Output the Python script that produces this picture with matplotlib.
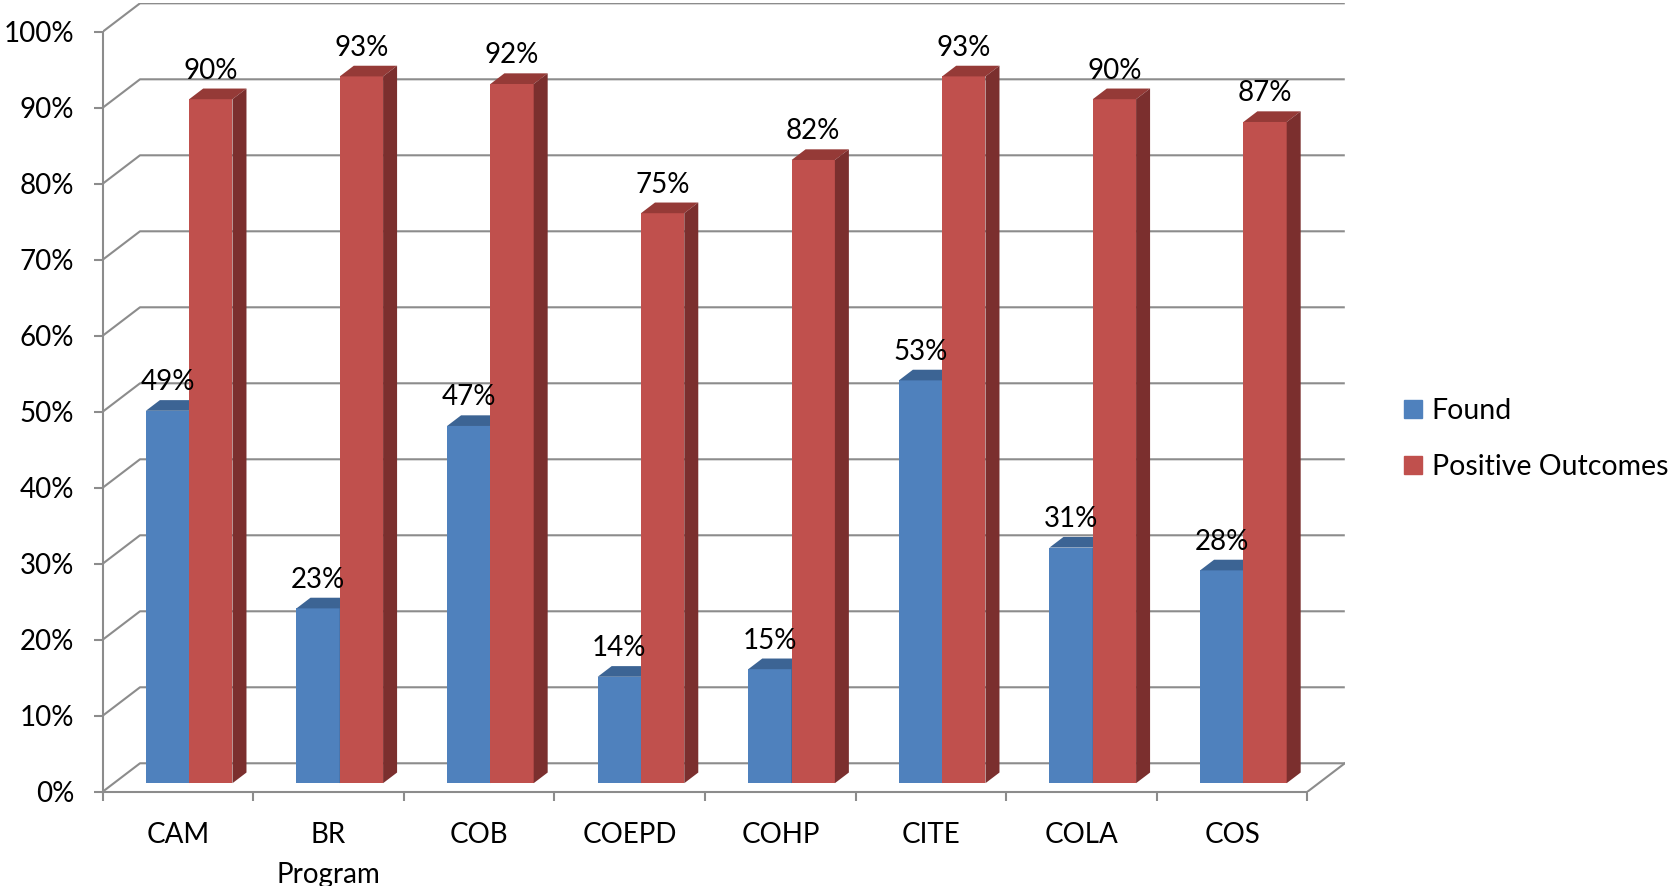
import numpy as np
import matplotlib
matplotlib.use("Agg")
import matplotlib.pyplot as plt
from matplotlib.patches import Polygon, Patch

plt.rcParams['font.family'] = ['Lato', 'DejaVu Sans']

# data
programs = ["CAM", "BR\nProgram", "COB", "COEPD", "COHP", "CITE", "COLA", "COS"]
found = [49, 23, 47, 14, 15, 53, 31, 28]
positive = [90, 93, 92, 75, 82, 93, 90, 87]
series_names = ["Found", "Positive Outcomes"]

# colours (front, top, side)
blue = ("#4F81BD", "#3C6494", "#2F5077")
red = ("#C0504D", "#953A37", "#7B2F2E")
grid_col = "#8C8C8C"
FS = 20

# fake 3d geometry, in data units
DX = 0.2477     # depth in category units
DY = 3.74       # depth in percent units
F0 = 0.30       # depth where bars start
BD = 0.375      # bar depth
W = 0.2875      # width of one bar

fig = plt.figure(figsize=(16.71, 8.86), dpi=100)
ax = fig.add_axes([102.7 / 1671, 1 - 791.7 / 886, 1242.1 / 1671, 788.4 / 886])
n = len(programs)
ax.set_xlim(-0.5, n - 0.5 + DX)
ax.set_ylim(0, 100 + DY)

# walls / gridlines
for v in range(0, 101, 10):
    ax.plot([-0.5, -0.5 + DX, n - 0.5 + DX], [v, v + DY, v + DY],
            color=grid_col, lw=1.5, zorder=0.5, solid_capstyle="butt")
ax.plot([n - 0.5, n - 0.5 + DX], [0, DY], color=grid_col, lw=1.5, zorder=0.5)

x = np.arange(n)


def draw_bars(xl, vals, cols, z):
    base = F0 * DY
    ax.bar(xl, vals, width=W, bottom=base, align="edge", color=cols[0],
           linewidth=0, zorder=z)
    for left, v in zip(xl, vals):
        right = left + W
        top = base + v
        ax.add_patch(Polygon([(left, top), (right, top),
                              (right + BD * DX, top + BD * DY),
                              (left + BD * DX, top + BD * DY)],
                             closed=True, color=cols[1], lw=0, zorder=z))
        ax.add_patch(Polygon([(right, base), (right, top),
                              (right + BD * DX, top + BD * DY),
                              (right + BD * DX, base + BD * DY)],
                             closed=True, color=cols[2], lw=0, zorder=z))
        ax.text(left + W / 2, top + BD * DY + 1.3, f"{v}%", ha="center",
                va="baseline", fontsize=FS, zorder=5)


draw_bars(x + F0 * DX - W, found, blue, 2)
draw_bars(x + F0 * DX, positive, red, 3)

# axes styling
for s in ["top", "right"]:
    ax.spines[s].set_visible(False)
ax.spines["left"].set_bounds(0, 100)
ax.spines["bottom"].set_bounds(-0.5, n - 0.5)
for s in ["left", "bottom"]:
    ax.spines[s].set_color(grid_col)
    ax.spines[s].set_linewidth(1.5)

ax.set_yticks(range(0, 101, 10))
ax.set_yticklabels([f"{v}%" for v in range(0, 101, 10)], fontsize=FS)
ax.set_xticks(np.arange(-0.5, n, 1))
ax.set_xticklabels([])
ax.set_xticks(x, minor=True)
ax.set_xticklabels(programs, minor=True, fontsize=FS, linespacing=1.65,
                   va="top")
ax.tick_params(axis="both", which="major", direction="out", length=6.5,
               width=1.5, color=grid_col)
ax.tick_params(axis="y", pad=14)
ax.tick_params(axis="x", which="minor", length=0, pad=22)

handles = [Patch(color=blue[0]), Patch(color=red[0])]
fig.legend(handles, series_names, loc="upper left",
           bbox_to_anchor=(1404 / 1671, 1 - 398 / 886), frameon=False,
           fontsize=20.5, handlelength=0.62, handleheight=0.62,
           handletextpad=0.35, labelspacing=1.05, borderpad=0,
           borderaxespad=0)

fig.savefig("out.png", dpi=100)
